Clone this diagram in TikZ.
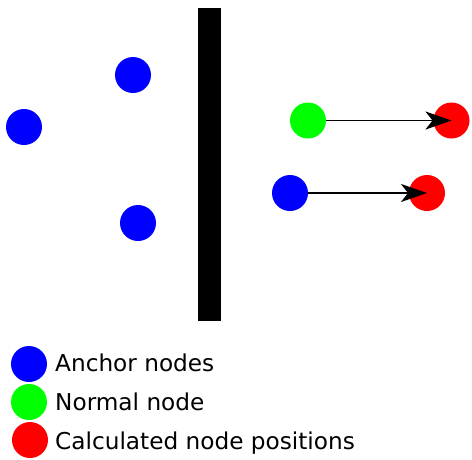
\documentclass[tikz,border=0pt]{standalone}
\usepackage{fontspec}
\setmainfont{DejaVu Sans}
\usetikzlibrary{arrows.meta}
\begin{document}
\begin{tikzpicture}[x=1pt,y=-1pt,
  dot/.style={circle,minimum size=36pt,inner sep=0pt,fill=#1},
  lbl/.style={anchor=base west,inner sep=0pt,font=\fontsize{23.2}{26}\selectfont},
  mv/.style={line width=1.6pt,-{Stealth[length=26pt,width=18pt,inset=7pt]}}]
\useasboundingbox (0,0) rectangle (472,459);
\fill[black] (198,8) rectangle (221,321);
\node[dot=blue] (a1) at (133,75) {};
\node[dot=blue] (a2) at (24,127) {};
\node[dot=blue] (a3) at (138,223) {};
\node[dot=red] (r1) at (451.5,120.5) {};
\node[dot=red] (r2) at (427,193) {};
\node[dot=green] (g) at (308,120.5) {};
\node[dot=blue] (b) at (290,193) {};
\draw[mv] (g.east) -- (r1.center);
\draw[mv] (b.east) -- (r2.center);
\node[dot=blue] (l1) at (29,364) {};
\node[dot=green] (l2) at (29,402) {};
\node[dot=red] (l3) at (30,440) {};
\node[lbl] (t1) at (55,371) {Anchor nodes};
\node[lbl] (t2) at (55,410) {Normal node};
\node[lbl] (t3) at (55,449) {Calculated node positions};
\end{tikzpicture}
\end{document}
